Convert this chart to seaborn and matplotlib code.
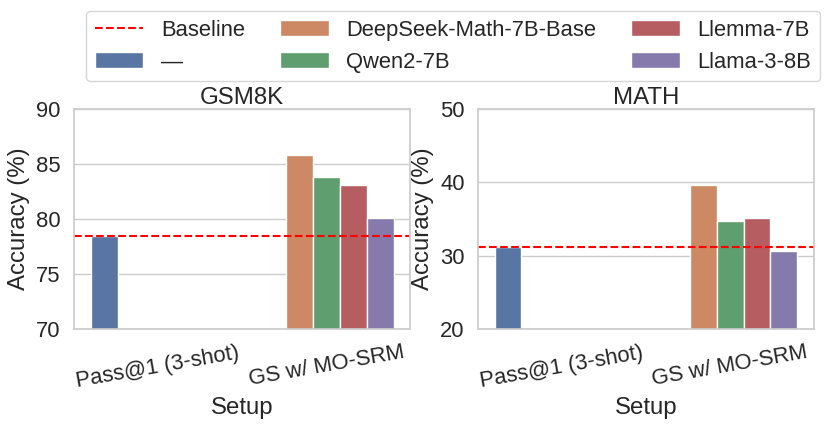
import pandas as pd
import matplotlib
matplotlib.use("Agg")
import matplotlib.pyplot as plt
import seaborn as sns

setups = ["Pass@1 (3-shot)", "GS w/ MO-SRM"]
models = ["—", "DeepSeek-Math-7B-Base", "Qwen2-7B", "Llemma-7B", "Llama-3-8B"]

gsm8k_pass1 = 78.5
gsm8k_gs = [85.8, 83.8, 83.1, 80.1]
math_pass1 = 31.2
math_gs = [39.6, 34.7, 35.2, 30.6]

gsm8k_baseline = 78.5
math_baseline = 31.2


def build_frame(pass1, gs_values):
    rows = [{"Setup": setups[0], "Model": models[0], "Accuracy (%)": pass1}]
    for model, value in zip(models[1:], gs_values):
        rows.append({"Setup": setups[1], "Model": model, "Accuracy (%)": value})
    return pd.DataFrame(rows)


panels = [
    ("GSM8K", build_frame(gsm8k_pass1, gsm8k_gs), gsm8k_baseline, (70, 90), [70, 75, 80, 85, 90]),
    ("MATH", build_frame(math_pass1, math_gs), math_baseline, (20, 50), [20, 30, 40, 50]),
]

sns.set_theme(style="whitegrid", font_scale=1.44)
plt.rcParams["font.family"] = ["Liberation Sans", "DejaVu Sans"]

fig, axes = plt.subplots(1, 2, figsize=(8.3, 4.28), dpi=100)

for ax, (title, df, baseline, ylim, yticks) in zip(axes, panels):
    sns.barplot(
        data=df, x="Setup", y="Accuracy (%)", hue="Model",
        hue_order=models, order=setups, palette="deep", ax=ax
    )
    ax.axhline(baseline, color="red", linestyle="--", linewidth=1.5, label="Baseline")
    ax.set_ylim(*ylim)
    ax.set_yticks(yticks)
    ax.set_title(title, pad=4)
    ax.tick_params(axis="x", labelrotation=10)
    ax.get_legend().remove()

handles, labels = axes[0].get_legend_handles_labels()
# put Baseline first
order = [labels.index("Baseline")] + [labels.index(m) for m in models]
fig.legend(
    [handles[i] for i in order], [labels[i] for i in order],
    loc="upper center", bbox_to_anchor=(0.546, 0.99), ncol=3, frameon=True,
    handlelength=2.2, columnspacing=1.6, borderaxespad=0.3
)

plt.subplots_adjust(left=0.089, right=0.981, top=0.745, bottom=0.231, wspace=0.2)
plt.savefig("out.png", dpi=100)
